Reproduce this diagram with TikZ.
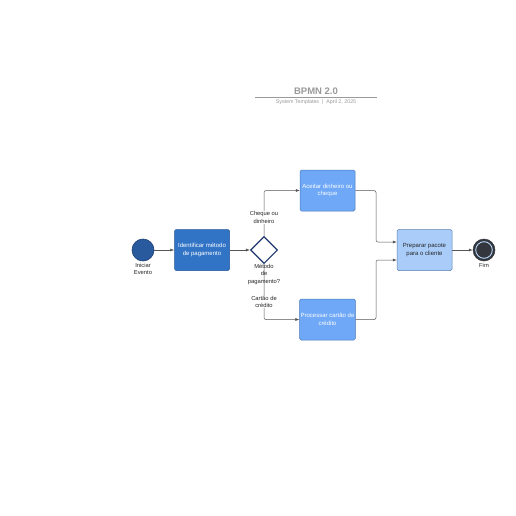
\documentclass[tikz,border=0pt]{standalone}
\usepackage{fontspec}
\setmainfont{Liberation Sans}
\usetikzlibrary{arrows.meta,shapes.geometric}
\definecolor{startfill}{HTML}{2A5A9E}
\definecolor{startdraw}{HTML}{1D3F73}
\definecolor{taskA}{HTML}{3174C6}
\definecolor{taskAd}{HTML}{24569A}
\definecolor{taskB}{HTML}{6EA8F7}
\definecolor{taskBd}{HTML}{4A78B8}
\definecolor{taskC}{HTML}{A9CCF9}
\definecolor{taskCd}{HTML}{5A7FB0}
\definecolor{gwdraw}{HTML}{1E3A6E}
\definecolor{linec}{HTML}{555555}
\definecolor{titlec}{HTML}{9A9A9A}
\definecolor{endfill}{HTML}{33373D}
\definecolor{halo}{HTML}{B8D6FA}
\tikzset{
  task/.style={rounded corners=1.5pt, minimum width=55pt, minimum height=41pt, align=center, font=\fontsize{6}{7.5}\selectfont, inner sep=1pt, line width=0.5pt},
  lbl/.style={align=center, font=\fontsize{5.8}{7.3}\selectfont, text=black!85, inner sep=0.5pt},
  flow/.style={draw=linec, line width=0.5pt, -{Latex[length=4pt,width=3pt]}},
  flowr/.style={flow, rounded corners=2pt}
}
\begin{document}
\begin{tikzpicture}[x=1pt,y=-1pt]
\useasboundingbox[fill=white] (0,0) rectangle (516,516);
% title
\node[font=\bfseries\fontsize{9.5}{10}\selectfont, text=titlec] (title) at (316,91) {BPMN 2.0};
\draw[titlec, line width=0.5pt] (255,97.5) -- (377,97.5);
\node[font=\fontsize{5.3}{6}\selectfont, text=titlec] (sub) at (316,102.5) {System Templates \ \textbar\ \ April 2, 2025};
% nodes
\node[circle, minimum size=22pt, inner sep=0pt, fill=startfill, draw=startdraw, line width=0.6pt] (start) at (143,250) {};
\node[lbl, anchor=north] (startl) at (143,262.5) {Iniciar\\Evento};
\node[task, fill=taskA, draw=taskAd, text=white] (t1) at (202,250) {Identificar método\\de pagamento};
\node[diamond, minimum width=27pt, minimum height=27pt, inner sep=0pt, draw=gwdraw, fill=white, line width=1.1pt] (gw) at (264,250) {};
\node[task, fill=taskB, draw=taskBd, text=white] (t2) at (327.5,190.5) {Aceitar dinheiro ou\\cheque};
\node[task, fill=taskB, draw=taskBd, text=white] (t3) at (327.5,319.5) {Processar cartão de\\crédito};
\node[task, fill=taskC, draw=taskCd, text=black!85] (t4) at (424.5,250) {Preparar pacote\\para o cliente};
\node[circle, minimum size=22pt, inner sep=0pt, fill=endfill, draw=endfill, line width=0.5pt] (end) at (484,250) {};
\draw[halo, line width=0.9pt] (end.center) circle (8.3pt);
\node[lbl, anchor=north] (endl) at (484,262.5) {Fim};
% flows
\draw[flow] (start) -- (t1);
\draw[flow] (t1) -- (gw);
\draw[flowr] (gw.north) |- (t2.west);
\draw[flowr] (gw.south) |- (t3.west);
\draw[flowr] (t2.east) -| (376,242) -- (t4.west |- 0,242);
\draw[flowr] (t3.east) -| (376,260) -- (t4.west |- 0,260);
\draw[flow] (t4) -- (end.west);
% labels on flows
\node[lbl, fill=white] (l1) at (264,217.5) {Cheque ou\\dinheiro};
\node[lbl, fill=white] (l2) at (264,302) {Cartão de\\crédito};
\node[lbl, anchor=north] (gwl) at (264,263.5) {Método\\de\\pagamento?};
\end{tikzpicture}
\end{document}
